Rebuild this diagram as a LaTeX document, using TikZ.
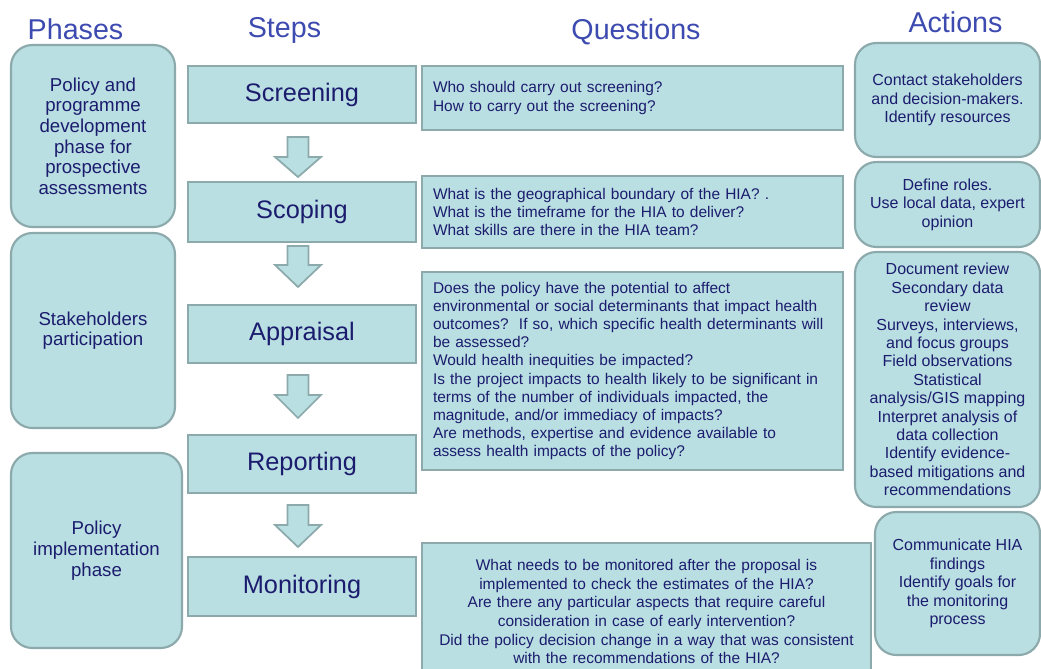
\documentclass[tikz,border=0pt]{standalone}
\usepackage{fontspec}
\setmainfont{Liberation Sans}
\definecolor{boxfill}{HTML}{B9DFE2}
\definecolor{boxline}{HTML}{8CA9AB}
\definecolor{txt}{HTML}{1C1C6E}
\definecolor{headc}{HTML}{3D4BB0}
\begin{document}
\begin{tikzpicture}[x=0.75pt,y=-0.75pt,
  base/.style={draw=boxline, fill=boxfill, line width=1.6pt, text=txt, inner sep=0pt},
  phase/.style={base, rounded corners=16pt, align=center, font=\fontsize{14}{15.5}\selectfont},
  stepbox/.style={base, font=\fontsize{19}{22}\selectfont},
  qbox/.style={base, inner xsep=8.25pt, text width=299.25pt, align=left, font=\fontsize{11.6}{13.6}\selectfont},
  qcbox/.style={base, inner xsep=3pt, text width=330.75pt, align=center, font=\fontsize{11.6}{14}\selectfont},
  abox/.style={base, rounded corners=16pt, align=center, font=\fontsize{12}{13.8}\selectfont},
  hdr/.style={text=headc, font=\fontsize{21.5}{24}\selectfont, anchor=base},
  blockarrow/.style={draw=boxline, fill=boxfill, line width=1.3pt, line join=miter}
]
\useasboundingbox (0,0) rectangle (1041,668);
\clip (0,0) rectangle (1041,668);
\fill[white] (0,0) rectangle (1041,668);

% headers
\node[hdr] (hphases) at (75.5,39) {Phases};
\node[hdr] (hsteps) at (284.5,37) {Steps};
\node[hdr] (hquest) at (636,39) {Questions};
\node[hdr] (hact) at (955.5,32) {Actions};

% phases
\node[phase, minimum width=123pt, minimum height=136.5pt] (p1) at (93,136)
  {Policy and\\programme\\development\\phase for\\prospective\\assessments};
\node[phase, minimum width=123pt, minimum height=146.25pt] (p2) at (93,330.5)
  {Stakeholders\\participation};
\node[phase, minimum width=128.25pt, minimum height=146.25pt] (p3) at (96.5,550.5)
  {Policy\\implementation\\phase};

% steps
\node[stepbox, minimum width=171pt, minimum height=42.75pt] (s1) at (302,94.5) {Screening};
\node[stepbox, minimum width=171pt, minimum height=45pt] (s2) at (302,212) {Scoping};
\node[stepbox, minimum width=171pt, minimum height=43.5pt] (s3) at (302,334) {Appraisal};
\node[stepbox, minimum width=171pt, minimum height=43.5pt] (s4) at (302,464) {Reporting};
\node[stepbox, minimum width=171pt, minimum height=44.25pt] (s5) at (302,586.5) {Monitoring};

% block arrows between steps
\foreach \ya/\yh/\yb in {137/157/177, 246/265/287, 375/395/418, 505/525/547}{
  \draw[blockarrow] (287.5,\ya) -- (308.5,\ya) -- (308.5,\yh) -- (321,\yh) -- (298,\yb)
    -- (275,\yh) -- (287.5,\yh) -- cycle;
}

% questions
\node[qbox, minimum height=48pt] (q1) at (632.5,98)
  {Who should carry out screening?\\How to carry out the screening?};
\node[qbox, minimum height=54pt] (q2) at (632.5,212)
  {What is the geographical boundary of the HIA? .\\What is the timeframe for the HIA to deliver?\\What skills are there in the HIA team?};
\node[qbox, minimum height=148.5pt] (q3) at (632.5,371)
  {Does the policy have the potential to affect\\environmental or social determinants that impact health\\outcomes?\ \ If so, which specific health determinants will\\be assessed?\\Would health inequities be impacted?\\Is the project impacts to health likely to be significant in\\terms of the number of individuals impacted, the\\magnitude, and/or immediacy of impacts?\\Are methods, expertise and evidence available to\\assess health impacts of the policy?};
\node[qcbox, minimum height=102.75pt] (q4) at (646.5,611.5)
  {What needs to be monitored after the proposal is\\implemented to check the estimates of the HIA?\\Are there any particular aspects that require careful\\consideration in case of early intervention?\\Did the policy decision change in a way that was consistent\\with the recommendations of the HIA?};

% actions
\node[abox, minimum width=138.75pt, minimum height=85.5pt] (a1) at (947.5,100)
  {Contact stakeholders\\and decision-makers.\\Identify resources};
\node[abox, minimum width=138.75pt, minimum height=63.75pt] (a2) at (947.5,204.5)
  {Define roles.\\Use local data, expert\\opinion};
\node[abox, minimum width=138.75pt, minimum height=191.25pt] (a3) at (947.5,379.5)
  {Document review\\Secondary data\\review\\Surveys, interviews,\\and focus groups\\Field observations\\Statistical\\analysis/GIS mapping\\Interpret analysis of\\data collection\\Identify evidence-\\based mitigations and\\recommendations};
\node[abox, minimum width=123.75pt, minimum height=107.25pt] (a4) at (957.5,583.5)
  {Communicate HIA\\findings\\Identify goals for\\the monitoring\\process};
\end{tikzpicture}
\end{document}
